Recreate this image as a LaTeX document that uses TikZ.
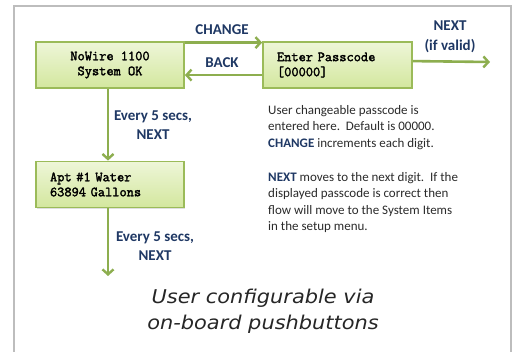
\documentclass[tikz,border=0pt]{standalone}
\usepackage{fontspec}
\setmainfont{Carlito}
\newfontfamily\capfont{DejaVu Sans}[FakeStretch=1.1]
\newfontfamily\lcdfont{Latin Modern Mono}[AutoFakeBold=2.2]
\usetikzlibrary{arrows.meta,shadows}
\definecolor{boxtop}{HTML}{EEF6D8}
\definecolor{boxbot}{HTML}{D3E79E}
\definecolor{boxedge}{HTML}{9BBB59}
\definecolor{arrowgreen}{HTML}{8DAE4F}
\definecolor{navy}{HTML}{1F3864}
\definecolor{bodytext}{HTML}{2B2B2B}
\definecolor{framegray}{HTML}{BDBDBD}
\tikzset{
  lcdbox/.style={draw=boxedge, line width=1.8pt, top color=boxtop, bottom color=boxbot,
    minimum width=148pt, minimum height=46pt, inner xsep=14pt,
    font=\lcdfont\bfseries\fontsize{14}{15}\selectfont,
    drop shadow={opacity=0.25, shadow xshift=1pt, shadow yshift=-1.5pt}},
  flow/.style={draw=arrowgreen, line width=2.6pt, -{Straight Barb[length=5pt,width=11pt,line width=2.4pt]}},
  flowlabel/.style={text=navy, font=\bfseries\fontsize{15}{19.5}\selectfont, align=center, inner sep=0pt},
  bodypara/.style={text=bodytext, font=\fontsize{13}{16.5}\selectfont, align=left, anchor=north west, inner sep=0pt}
}
\begin{document}
\begin{tikzpicture}[x=1pt,y=-1pt]
\useasboundingbox (0,0) rectangle (515,352);
\fill[white] (0,0) rectangle (515,352);
\draw[framegray, line width=1.6pt] (14,360) -- (14,6) -- (511,6) -- (511,360);

\node[lcdbox, align=center] (b1) at (110,65) {NoWire 1100\\System OK};
\node[lcdbox, minimum width=149pt, text width=121pt, align=left] (b2) at (337.5,65) {Enter Passcode\\{[}00000{]}};
\node[lcdbox, text width=120pt, align=left] (b3) at (110,184.5) {Apt \#1 Water\\63894 Gallons};

\coordinate (n1) at (490,62);
\coordinate (e2) at (108,276);

\draw[flow] ([yshift=-1.5pt]b1.north east) -- ([yshift=-1.5pt]b2.north west);
\draw[flow] ([yshift=-34pt]b2.north west) -- ([yshift=-34pt]b1.north east);
\draw[flow] ([yshift=-20pt]b2.north east) -- (n1);
\draw[flow] ([xshift=-2pt]b1.south) -- ([xshift=-2pt]b3.north);
\draw[flow] ([xshift=-2pt]b3.south) -- (e2);

\node[flowlabel] (lchange) at (222,30) {CHANGE};
\node[flowlabel] (lback) at (222,63) {BACK};
\node[flowlabel] (lnext) at (450,37) {NEXT\\(if valid)};
\node[flowlabel] (lev1) at (153,125) {Every 5 secs,\\NEXT};
\node[flowlabel] (lev2) at (155,246) {Every 5 secs,\\NEXT};

\node[bodypara] (p1) at (268,105) {User changeable passcode is\\entered here.\ \ Default is 00000.\\{\color{navy}\bfseries CHANGE} increments each digit.};
\node[bodypara] (p2) at (268,172) {{\color{navy}\bfseries NEXT} moves to the next digit.\ \ If the\\displayed passcode is correct then\\flow will move to the System Items\\in the setup menu.};

\node[text=black!85, font=\capfont\itshape\fontsize{19}{26}\selectfont, align=center] (cap) at (263,311) {User configurable via\\on-board pushbuttons};
\end{tikzpicture}
\end{document}
